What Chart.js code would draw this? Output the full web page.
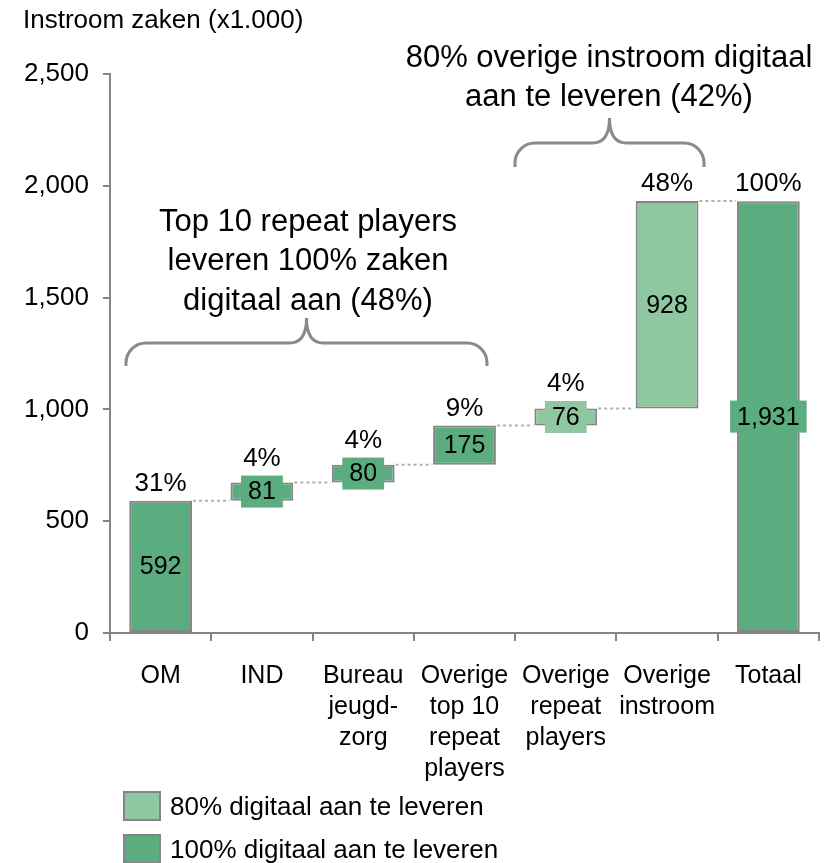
<!DOCTYPE html>
<html><head><meta charset="utf-8">
<script src="https://cdn.jsdelivr.net/npm/chart.js@4.4.1/dist/chart.umd.min.js"></script>
<style>html,body{margin:0;padding:0;background:#fff}#wrap{width:835px;height:863px;position:relative}canvas{display:block}</style>
</head><body><div id="wrap"><canvas id="c" width="835" height="863" style="width:835px;height:863px"></canvas></div>
<script>
// ---- data ----
const categories = [['OM'],['IND'],['Bureau','jeugd-','zorg'],['Overige','top 10','repeat','players'],['Overige','repeat','players'],['Overige','instroom'],['Totaal']];
const values = [592, 81, 80, 175, 76, 928, 1931];
const shares = ['31%','4%','4%','9%','4%','48%','100%'];
const digitalGroup = ['100','100','100','100','80','80','100'];
const isTotal = [false,false,false,false,false,false,true];
const yTicks = [0, 500, 1000, 1500, 2000, 2500];
const yTitle = 'Instroom zaken (x1.000)';
const legendLabels = ['80% digitaal aan te leveren', '100% digitaal aan te leveren'];
const legendGroups = ['80', '100'];
const braceTexts = [['Top 10 repeat players','leveren 100% zaken','digitaal aan (48%)'], ['80% overige instroom digitaal','aan te leveren (42%)']];

// ---- derived (floating waterfall ranges) ----
const ranges = [];
let running = 0;
values.forEach((v, i) => {
  if (isTotal[i]) { ranges.push([0, v]); }
  else { ranges.push([running, running + v]); running += v; }
});

const COLORS = {'100': 'rgb(91,173,128)', '80': 'rgb(143,200,160)'};
const BORDER = '#858585';
const FONT = '"Liberation Sans", Arial, Helvetica, sans-serif';

function drawBrace(ctx, x1, x2, yEnd, yMid, yTip, r, r2) {
  const xm = (x1 + x2) / 2;
  ctx.beginPath();
  ctx.moveTo(x1, yEnd);
  ctx.arcTo(x1, yMid, x1 + r, yMid, r);
  ctx.lineTo(xm - r2, yMid);
  ctx.quadraticCurveTo(xm, yMid, xm, yTip);
  ctx.quadraticCurveTo(xm, yMid, xm + r2, yMid);
  ctx.lineTo(x2 - r, yMid);
  ctx.arcTo(x2, yMid, x2, yEnd, r);
  ctx.lineTo(x2, yEnd);
  ctx.stroke();
}

const decorations = {
  id: 'decorations',
  afterDatasetsDraw(chart) {
    const ctx = chart.ctx;
    const meta = chart.getDatasetMeta(0);
    const bars = meta.data;
    ctx.save();
    // connectors
    ctx.strokeStyle = '#b0b0b0';
    ctx.lineWidth = 2;
    ctx.setLineDash([3, 3]);
    for (let i = 0; i < bars.length - 1; i++) {
      const b = bars[i], n = bars[i + 1];
      const level = chart.scales.y.getPixelForValue(ranges[i][1]);
      ctx.beginPath();
      ctx.moveTo(b.x + b.width / 2 + 1, level);
      ctx.lineTo(n.x - n.width / 2 - 1, level);
      ctx.stroke();
    }
    ctx.setLineDash([]);
    // value labels and shares
    ctx.textAlign = 'center';
    ctx.textBaseline = 'middle';
    bars.forEach((b, i) => {
      const top = Math.min(b.y, b.base), bot = Math.max(b.y, b.base);
      const cy = (top + bot) / 2;
      ctx.font = `25px ${FONT}`;
      const txt = values[i].toLocaleString('en-US');
      const w = ctx.measureText(txt).width + 14, h = 32;
      ctx.fillStyle = COLORS[digitalGroup[i]];
      ctx.fillRect(b.x - w / 2, cy - h / 2, w, h);
      ctx.fillStyle = '#000';
      ctx.fillText(txt, b.x, cy + 1);
      const labTop = Math.min(top, cy - h / 2);
      ctx.font = `26px ${FONT}`;
      ctx.fillText(shares[i], b.x, labTop - 17);
    });
    // braces
    ctx.strokeStyle = '#8a8a8a';
    ctx.lineWidth = 3;
    drawBrace(ctx, 126, 487, 366, 343, 318, 20, 17);
    drawBrace(ctx, 515, 704, 167, 143, 118, 20, 17);
    ctx.fillStyle = '#000';
    ctx.font = `31px ${FONT}`;
    braceTexts[0].forEach((t, k) => ctx.fillText(t, 308, 222 + k * 39.5));
    braceTexts[1].forEach((t, k) => ctx.fillText(t, 609, 58 + k * 39.5));
    // axis title
    ctx.textAlign = 'left';
    ctx.font = `26px ${FONT}`;
    ctx.fillText(yTitle, 23, 21);
    // legend
    legendLabels.forEach((t, k) => {
      const y0 = 792 + k * 43;
      ctx.fillStyle = COLORS[legendGroups[k]];
      ctx.fillRect(124, y0, 36, 28);
      ctx.strokeStyle = BORDER;
      ctx.lineWidth = 2;
      ctx.strokeRect(124, y0, 36, 28);
      ctx.fillStyle = '#000';
      ctx.font = `26px ${FONT}`;
      ctx.fillText(t, 170, y0 + 16);
    });
    ctx.restore();
  }
};

new Chart(document.getElementById('c'), {
  type: 'bar',
  data: {
    labels: categories,
    datasets: [{
      data: ranges,
      backgroundColor: digitalGroup.map(g => COLORS[g]),
      borderColor: BORDER,
      borderWidth: 2,
      borderSkipped: false,
      categoryPercentage: 1,
      barPercentage: 0.62
    }]
  },
  options: {
    responsive: false,
    animation: false,
    devicePixelRatio: 1,
    layout: { padding: { left: 0, right: 16, top: 74, bottom: 0 } },
    plugins: { legend: { display: false }, tooltip: { enabled: false } },
    scales: {
      x: {
        afterFit(s) { s.height = 230; },
        grid: { drawOnChartArea: false, tickLength: 8, color: BORDER, lineWidth: 2, offset: true },
        border: { color: BORDER, width: 2 },
        ticks: { color: '#000', padding: 20, autoSkip: false, maxRotation: 0, font: { family: FONT, size: 25, lineHeight: 1.23 } }
      },
      y: {
        min: 0, max: 2500,
        afterFit(s) { s.width = 110; },
        afterBuildTicks(s) { s.ticks = yTicks.map(v => ({ value: v })); },
        grid: { drawOnChartArea: false, tickLength: 7, color: BORDER, lineWidth: 2 },
        border: { color: BORDER, width: 2 },
        ticks: { color: '#000', padding: 14, font: { family: FONT, size: 26 }, callback: v => v.toLocaleString('en-US') }
      }
    }
  },
  plugins: [decorations]
});
</script>
</body></html>
